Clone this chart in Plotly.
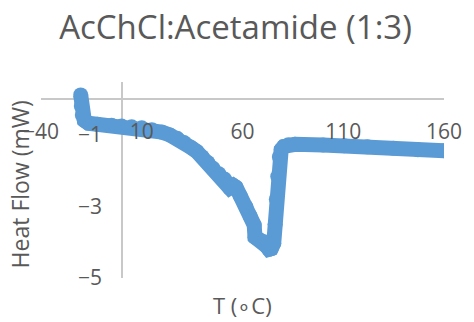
import plotly.graph_objects as go

# DSC curve
temperature = [-20.3, -20.0, -19.5, -18.5, -16.5, -12.0, -5.0, 0.0, 5.0, 10.0, 15.0, 20.0,
               24.0, 27.6, 31.0, 34.5, 37.3, 40.0, 42.8, 45.4, 48.3, 51.1, 53.0, 53.6,
               55.5, 56.8, 59.0, 61.7, 63.8, 65.8, 66.2, 68.5, 70.6, 72.0, 73.1, 74.3,
               75.5, 76.2, 76.8, 77.5, 78.3, 79.2, 80.5, 82.8, 86.1, 100.0, 110.5, 122.0,
               134.9, 147.0, 160.1]
heat_flow = [0.11, -0.20, -0.45, -0.60, -0.68, -0.71, -0.74, -0.76, -0.78, -0.81, -0.86, -0.93,
             -1.01, -1.10, -1.22, -1.36, -1.47, -1.62, -1.78, -1.94, -2.09, -2.24, -2.36, -2.49,
             -2.42, -2.47, -2.72, -3.01, -3.27, -3.52, -3.86, -3.93, -3.99, -4.12, -4.20, -4.18,
             -4.03, -3.50, -2.80, -2.17, -1.62, -1.42, -1.33, -1.28, -1.27, -1.29, -1.31, -1.34,
             -1.38, -1.42, -1.45]

x_ticks = [-40, 10, 60, 110, 160]
y_ticks = [-5, -3, -1]

title_text = "AcChCl:Acetamide (1:3)"
x_title = "T (\u2218C)"
y_title = "Heat Flow (mW)"

blue = "#5B9BD5"
grey_text = "#595959"
axis_grey = "#C8C8C8"

fig = go.Figure()
fig.add_trace(go.Scatter(
    x=temperature, y=heat_flow, mode="lines+markers",
    line=dict(color=blue, width=15),
    marker=dict(color=blue, size=15),
    hoverinfo="skip", showlegend=False,
))

fig.update_layout(
    width=474, height=322,
    margin=dict(l=41, r=22, t=82, b=44),
    paper_bgcolor="white", plot_bgcolor="white",
    font=dict(family="Open Sans", color=grey_text, size=21),
    title=dict(text=title_text, x=0.497, xanchor="center", y=1 - 27 / 322, yanchor="middle",
               yref="container", font=dict(size=33, color=grey_text, family="Open Sans")),
    xaxis=dict(range=[-40, 160], tickvals=x_ticks, showgrid=False, showline=False,
               zeroline=True, zerolinecolor=axis_grey, zerolinewidth=2,
               anchor="free", position=0.82, ticks="", tickfont=dict(size=21, color=grey_text)),
    yaxis=dict(range=[-5, 0.47], tickvals=y_ticks, showgrid=False, showline=False,
               zeroline=True, zerolinecolor=axis_grey, zerolinewidth=2,
               anchor="free", position=(123.5 - 41) / 411, ticks="",
               ticklabelstandoff=20, tickfont=dict(size=21, color=grey_text)),
    annotations=[
        dict(text=y_title, xref="paper", yref="paper", x=(20 - 41) / 411, y=(278 - 184) / 196,
             xanchor="center", yanchor="middle", textangle=-90, showarrow=False,
             font=dict(size=23, color=grey_text)),
        dict(text=x_title, xref="paper", yref="paper", x=(247 - 41) / 411, y=(278 - 305) / 196,
             xanchor="center", yanchor="middle", showarrow=False,
             font=dict(size=22, color=grey_text)),
    ],
)

fig.write_html("out.html")
